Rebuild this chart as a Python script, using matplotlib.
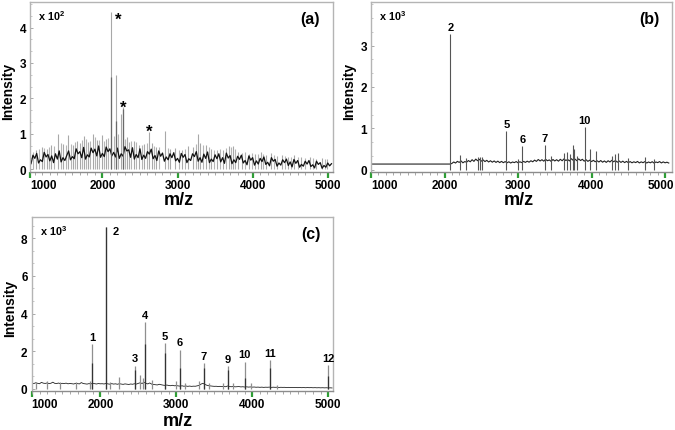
import numpy as np
import matplotlib
matplotlib.use('Agg')
import matplotlib.pyplot as plt
import matplotlib.transforms as mtransforms
from matplotlib.ticker import MultipleLocator, FuncFormatter, AutoMinorLocator

plt.rcParams['font.family'] = ['Liberation Sans', 'DejaVu Sans']
plt.rcParams['font.weight'] = 'bold'
plt.rcParams['mathtext.fontset'] = 'custom'
plt.rcParams['mathtext.rm'] = 'Liberation Sans:bold'
plt.rcParams['mathtext.it'] = 'Liberation Sans:bold'
plt.rcParams['mathtext.bf'] = 'Liberation Sans:bold'

# ---------------- data ----------------
step = 25
# panel (a): baseline noise (raw counts), sampled every 25 m/z from 1050
a_noise_start = 1050
a_noise = [16, 40, 31, 45, 18, 27, 22, 48, 35, 42, 24, 38, 19, 44, 29, 52, 21, 33, 25,
           39, 52, 27, 36, 30, 58, 44, 50, 33, 62, 29, 41, 35, 60, 47, 57, 38, 66, 34, 45,
           36, 63, 50, 58, 38, 48, 35, 60, 31, 44, 37, 64, 52, 55, 34, 61, 29, 42, 33, 58,
           28, 40, 31, 50, 43, 57, 30, 39, 25, 52, 37, 46, 23, 35, 27, 44, 33, 47, 24, 31,
           20, 45, 34, 42, 19, 30, 25, 44, 36, 50, 23, 33, 20, 43, 31, 49, 19, 29, 22, 41,
           30, 44, 21, 33, 17, 46, 32, 39, 16, 27, 19, 37, 28, 40, 18, 25, 13, 38, 26, 33,
           12, 24, 15, 31, 22, 35, 14, 20, 10, 33, 23, 28, 9, 18, 12, 27, 19, 29, 11, 21,
           7, 28, 17, 25, 6, 14, 9, 23, 15, 25, 8, 13, 4, 23, 14, 19, 3, 11, 6, 18, 10, 16]
a_spike_mz = [1120, 1190, 1260, 1320, 1410, 1480, 1545, 1610, 1660, 1700,
              1760, 1810, 1870, 1930, 1990, 2050, 2116, 2187, 2250, 2270,
              2330, 2350, 2420, 2490, 2560, 2622, 2660, 2720, 2835, 2900,
              2960, 3060, 3140, 3200, 3278, 3300, 3380, 3450, 3530, 3610,
              3680, 3740, 3800, 3860, 3950, 4030, 4110, 4180, 4240, 4320,
              4390, 4470, 4550, 4640, 4760, 4850, 4920, 4990]
a_spike_h = [55, 62, 58, 70, 100, 72, 97, 68, 80, 75,
             93, 78, 100, 82, 97, 85, 444, 266, 155, 177,
             90, 78, 80, 70, 72, 106, 75, 62, 107, 58,
             60, 56, 65, 62, 99, 75, 70, 58, 55, 55,
             65, 65, 50, 45, 44, 42, 50, 40, 45, 38,
             40, 36, 40, 34, 35, 30, 32, 30]
a_minor_mz = [1080, 1150, 1225, 1290, 1360, 1445, 1510, 1580, 1635, 1730,
              1785, 1840, 1900, 1960, 2020, 2080, 2150, 2210, 2300, 2380,
              2450, 2530, 2590, 2690, 2760, 2870, 3020, 3100, 3240, 3340,
              3420, 3490, 3570, 3650, 3710, 3770, 3900, 3990, 4070, 4140,
              4280, 4430, 4510, 4600, 4700, 4800, 4960]
a_minor_h = [50, 58, 60, 64, 66, 75, 70, 72, 78, 82,
             86, 80, 90, 84, 80, 88, 95, 100, 85, 80,
             76, 70, 74, 66, 64, 60, 55, 58, 72, 68,
             62, 56, 58, 60, 62, 58, 48, 46, 44, 42,
             40, 38, 36, 35, 33, 32, 28]
a_core_mz = [2116, 2187, 2270]
a_core_h = [260, 137, 170]
a_star_mz = [2116, 2270, 2622]

# panel (b)
b_flat_mz = [1000, 2080]
b_flat = [135, 135]
b_noise_start = 2100
b_noise = [150, 185, 160, 200, 175, 210, 165, 195, 180, 220, 190, 240, 200, 255, 215, 250, 205,
           235, 195, 225, 185, 215, 180, 210, 175, 205, 170, 200, 168, 195, 165, 190, 160, 185, 170, 195, 165,
           190, 170, 200, 175, 205, 180, 215, 190, 230, 200, 245, 210, 240, 205, 250, 215, 235, 200, 245, 210,
           240, 205, 250, 215, 260, 220, 245, 210, 265, 225, 255, 215, 260, 220, 250, 205, 240, 200, 230, 195,
           225, 190, 215, 185, 220, 180, 210, 175, 215, 185, 225, 190, 220, 180, 210, 175, 205, 170, 200, 168,
           195, 165, 190, 170, 198, 162, 188, 168, 195, 160, 185, 165, 192, 158, 185, 170, 195, 162, 188, 165, 180, 160]
b_peak_mz = [2078, 2204, 2290, 2450, 2480, 2510, 2841, 3000, 3059, 3368,
             3450, 3620, 3660, 3700, 3744, 3762, 3800, 3907, 3985, 4067,
             4280, 4320, 4362, 4500, 4721, 4850]
b_peak_h = [3280, 360, 280, 300, 310, 300, 940, 260, 560, 600,
            320, 400, 430, 380, 590, 500, 320, 1030, 490, 440,
            340, 370, 400, 280, 300, 250]
b_labels = ['2', '5', '6', '7', '10']
b_label_mz = [2078, 2841, 3059, 3368, 3907]

# panel (c)
c_noise_start = 1100
c_noise = [310, 290, 330, 300, 280, 350, 310, 295, 320, 285, 305, 360, 300, 290, 315, 280, 300,
           290, 310, 275, 295, 280, 265, 300, 285, 270, 340, 290, 275, 260, 285, 270, 300, 280, 265, 290, 275,
           280, 265, 300, 270, 255, 285, 260, 275, 250, 280, 265, 245, 270, 255, 240, 265, 250, 280, 260, 300,
           330, 290, 360, 300, 270, 320, 260, 240, 230, 215, 250, 225, 205, 190, 210, 185, 175, 195, 170, 180,
           165, 150, 170, 145, 160, 140, 155, 138, 150, 145, 165, 190, 260, 300, 250, 200, 175, 160, 150, 140,
           145, 130, 140, 125, 135, 120, 160, 130, 120, 135, 115, 125, 130, 110, 120, 105, 115, 100, 110, 98,
           105, 92, 100, 88, 98, 85, 95, 90, 100, 84, 95, 88, 92, 80, 90, 85, 88, 78, 85, 80,
           84, 75, 82, 72, 80, 70, 78, 68, 76, 70, 74, 66, 72, 64, 70, 62, 68, 60, 66, 58, 62, 55]
c_peak_mz = [1150, 1300, 1470, 1680, 1860, 1891, 2075, 2130, 2250, 2457,
             2520, 2560, 2588, 2680, 2847, 2990, 3049, 3110, 3300, 3360,
             3430, 3620, 3676, 3740, 3900, 3980, 4233, 4320, 5000]
c_peak_h = [380, 420, 390, 350, 450, 2390, 8580, 360, 620, 1240,
            740, 560, 3540, 500, 2420, 450, 2090, 300, 420, 1380,
            330, 300, 1200, 330, 1450, 320, 1540, 200, 1290]
c_labels = ['1', '2', '3', '4', '5', '6', '7', '9', '10', '11', '12']
c_label_mz = [1891, 2075, 2457, 2588, 2847, 3049, 3360, 3676, 3900, 4233, 5000]
c_core_h = [1400, 8580, 1000, 2400, 1900, 1100, 1100, 1000, 600, 1100, 700]

x_major = [2000, 3000, 4000, 5000]

# ---------------- figure ----------------
W, H = 675, 431
fig = plt.figure(figsize=(W / 100, H / 100), dpi=100)


def px_axes(l, t, r, b):
    return fig.add_axes([l / W, 1 - b / H, (r - l) / W, (b - t) / H])


GREEN = '#2e9e35'
FRAME = '#b4b4b4'


def style(ax, xlim, ylim, yscale, yticks, letter, exp):
    ax.set_xlim(*xlim)
    ax.set_ylim(*ylim)
    for s in ax.spines.values():
        s.set_color(FRAME)
        s.set_linewidth(1.0)
    ax.spines['bottom'].set_color('#8c8c8c')
    ticks = [xlim[0]] + x_major
    ax.set_xticks(ticks)
    ax.set_xticklabels(['1000'] + [str(v) for v in x_major])
    ax.get_xticklabels()[0].set_horizontalalignment('left')
    ax.xaxis.set_minor_locator(MultipleLocator(100))
    ax.tick_params(axis='x', which='major', direction='out', length=4, width=1.6,
                   color=GREEN, labelsize=8.5, pad=1.5)
    ax.tick_params(axis='x', which='minor', direction='out', length=2, width=0.6,
                   color='#9a9a9a')
    ax.set_yticks(yticks)
    ax.yaxis.set_major_formatter(FuncFormatter(lambda v, p: '%d' % round(v / yscale)))
    ax.yaxis.set_minor_locator(AutoMinorLocator(3))
    ax.tick_params(axis='y', which='major', direction='in', length=2.5, width=0.6,
                   color='#9a9a9a', labelsize=8.5, pad=3)
    ax.tick_params(axis='y', which='minor', direction='in', length=1.5, width=0.5,
                   color='#b0b0b0')
    for lab in ax.get_xticklabels() + ax.get_yticklabels():
        lab.set_fontweight('bold')
    ax.set_xlabel('m/z', fontsize=13, fontweight='bold')
    ax.xaxis.set_label_coords(0.49, -0.166)
    ax.xaxis.label.set_verticalalignment('center')
    ax.set_ylabel('Intensity', fontsize=10, fontweight='bold')
    ax.text(0.027, 0.925, r'x 10$^{%d}$' % exp, transform=ax.transAxes,
            fontsize=7.8, fontweight='bold', ha='left', va='center')
    ax.text(0.925, 0.905, '(%s)' % letter, transform=ax.transAxes,
            fontsize=11.5, fontweight='bold', ha='center', va='center')


# ---- panel (a)
axa = px_axes(30.3, 3, 333, 172.5)
style(axa, (1040, 5070), (-6, 472), 100, [0, 100, 200, 300, 400], 'a', 2)
a_mz = a_noise_start + step * np.arange(len(a_noise))
axa.vlines(a_minor_mz, 0, a_minor_h, colors='#b5b5b5', linewidth=0.8)
axa.vlines(a_spike_mz, 0, a_spike_h, colors='#a8a8a8', linewidth=0.8)
axa.plot(a_mz, a_noise, color='#111111', linewidth=0.9)
axa.vlines(a_core_mz, 0, a_core_h, colors='#6a6a6a', linewidth=0.9)
a_hmap = dict(zip(a_spike_mz, a_spike_h))
star_offsets = [(5.2, -8.5), (0.5, -3.7), (0, -2.8)]
for mz, off in zip(a_star_mz, star_offsets):
    axa.annotate('*', (mz, a_hmap[mz]), xytext=off, textcoords='offset points',
                 ha='center', va='baseline', fontsize=12, fontweight='bold')
axa.yaxis.set_label_coords(-0.0726, 0.477)
axa.yaxis.label.set_verticalalignment('center')

# ---- panel (b)
axb = px_axes(371, 3.3, 671.7, 172.7)
style(axb, (1000, 5090), (-50, 4050), 1000, [0, 1000, 2000, 3000], 'b', 3)
last = axb.get_xticklabels()[-1]
last.set_horizontalalignment('right')
last.set_transform(last.get_transform() +
                   mtransforms.ScaledTranslation(9 / 100, 0, fig.dpi_scale_trans))
b_mz = b_noise_start + step * np.arange(len(b_noise))
axb.plot(b_flat_mz + list(b_mz), b_flat + b_noise, color='#222222', linewidth=0.8)
axb.vlines(b_peak_mz, 0, b_peak_h, colors='#555555', linewidth=0.8)
b_hmap = dict(zip(b_peak_mz, b_peak_h))
for t, mz in zip(b_labels, b_label_mz):
    axb.annotate(t, (mz, b_hmap[mz]), xytext=(0, 3), textcoords='offset points',
                 ha='center', va='baseline', fontsize=8, fontweight='bold')
axb.yaxis.set_label_coords(-0.0714, 0.477)
axb.yaxis.label.set_verticalalignment('center')

# ---- panel (c)
axc = px_axes(31.7, 218.3, 333.3, 391.5)
style(axc, (1097, 5066), (-80, 9110), 1000, [0, 2000, 4000, 6000, 8000], 'c', 3)
axc.xaxis.set_label_coords(0.486, -0.173)
c_mz = c_noise_start + step * np.arange(len(c_noise))
axc.plot(c_mz, c_noise, color='#222222', linewidth=0.6)
axc.vlines(c_peak_mz, 0, c_peak_h, colors='#8f8f8f', linewidth=0.9)
axc.vlines(c_label_mz, 0, c_core_h, colors='#333333', linewidth=0.9)
c_hmap = dict(zip(c_peak_mz, c_peak_h))
for t, mz in zip(c_labels, c_label_mz):
    if t == '2':
        axc.annotate(t, (mz, c_hmap[mz]), xytext=(4.5, -3), textcoords='offset points',
                     ha='left', va='center', fontsize=8, fontweight='bold')
    else:
        axc.annotate(t, (mz, c_hmap[mz]), xytext=(0, 3), textcoords='offset points',
                     ha='center', va='baseline', fontsize=8, fontweight='bold')
axc.yaxis.set_label_coords(-0.0726, 0.48)
axc.yaxis.label.set_verticalalignment('center')

fig.savefig('out.png', dpi=100)
